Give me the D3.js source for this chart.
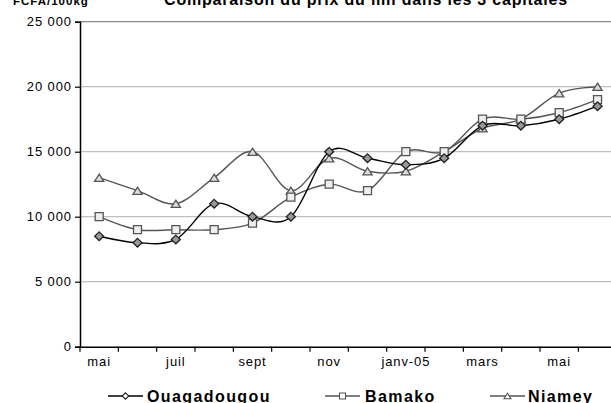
<!DOCTYPE html>
<html>
<head>
<meta charset="utf-8">
<script src="https://cdn.jsdelivr.net/npm/d3@7"></script>
<style>
  body { margin: 0; background: #fff; }
  svg { display: block; font-family: "Liberation Sans", Arial, sans-serif; }
</style>
</head>
<body>
<div id="chart"></div>
<script>
// months, May 2004 to June 2005
var months = ["mai", "juin", "juil", "août", "sept", "oct", "nov", "déc",
              "janv-05", "févr", "mars", "avr", "mai", "juin"];
var ouaga  = [8500, 8000, 8250, 11000, 10000, 10000, 15000, 14500, 14000, 14500, 17000, 17000, 17500, 18500];
var bamako = [10000, 9000, 9000, 9000, 9500, 11500, 12500, 12000, 15000, 15000, 17500, 17500, 18000, 19000];
var niamey = [13000, 12000, 11000, 13000, 15000, 12000, 14500, 13500, 13500, 15000, 16800, 17500, 19500, 20000];
var yTicks = [0, 5000, 10000, 15000, 20000, 25000];

var width = 611, height = 403;
var margin = {top: 21.7, right: -5.7, bottom: 56.3, left: 80};

var svg = d3.select("#chart").append("svg")
  .attr("width", width)
  .attr("height", height);

var x = d3.scaleBand()
  .domain(d3.range(months.length))
  .range([margin.left, width - margin.right]);

var y = d3.scaleLinear()
  .domain([0, 25000])
  .range([height - margin.bottom, margin.top]);

var fmt = d3.formatLocale({decimal: ",", thousands: " ", grouping: [3], currency: ["", ""]}).format(",");

// marker outlines, k scales them down for the legend
function diamond(k) { var w = 4.5 * k, h = 4.3 * k; return "M0," + (-h) + "L" + w + ",0L0," + h + "L" + (-w) + ",0Z"; }
function square(k) { var s = 4 * k; return "M" + (-s) + "," + (-s) + "H" + s + "V" + s + "H" + (-s) + "Z"; }
function triangle(k) { var w = 4.6 * k, h = 3.6 * k; return "M0," + (-h) + "L" + w + "," + h + "H" + (-w) + "Z"; }

// gridlines
svg.append("g")
  .selectAll("line")
  .data(yTicks.slice(1))
  .enter()
  .append("line")
  .attr("x1", margin.left)
  .attr("x2", width)
  .attr("y1", function(d) { return y(d); })
  .attr("y2", function(d) { return y(d); })
  .attr("stroke", function(d) { return d == 25000 ? "#888" : "#c0c0c0"; })
  .attr("stroke-width", 1.2);

// y axis
var yAxis = svg.append("g")
  .attr("transform", "translate(" + margin.left + ",0)")
  .call(d3.axisLeft(y).tickValues(yTicks).tickSize(5).tickPadding(3).tickFormat(fmt));
yAxis.select(".domain").attr("stroke", "#000").attr("stroke-width", 1.5);
yAxis.selectAll(".tick line").attr("stroke", "#000").attr("stroke-width", 1.2);
yAxis.selectAll("text")
  .attr("font-size", "13px")
  .attr("letter-spacing", "0.9px")
  .attr("fill", "#000")
  .attr("font-family", "Liberation Sans, Arial, sans-serif");

// x axis
var xAxis = svg.append("g")
  .attr("transform", "translate(0," + y(0) + ")")
  .call(d3.axisBottom(x).tickSize(0).tickPadding(10)
    .tickFormat(function(i) { return i % 2 == 0 ? months[i] : ""; }));
xAxis.select(".domain").attr("stroke", "#000").attr("stroke-width", 1.5);
xAxis.selectAll("text")
  .attr("font-size", "13px")
  .attr("letter-spacing", "0.9px")
  .attr("fill", "#000")
  .attr("font-family", "Liberation Sans, Arial, sans-serif");
xAxis.selectAll(".bound")
  .data(d3.range(months.length + 1))
  .enter()
  .append("line")
  .attr("class", "bound")
  .attr("x1", function(i) { return margin.left + i * x.step(); })
  .attr("x2", function(i) { return margin.left + i * x.step(); })
  .attr("y1", 0)
  .attr("y2", 5)
  .attr("stroke", "#000")
  .attr("stroke-width", 1.2);

var cx = function(d, i) { return x(i) + x.bandwidth() / 2; };

var series = [
  {name: "Ouagadougou", values: ouaga,  line: "#000", fill: "#999", stroke: "#222", shape: diamond,  lx: 108, tx: 147},
  {name: "Bamako",      values: bamako, line: "#555", fill: "#eee", stroke: "#555", shape: square,   lx: 325, tx: 365},
  {name: "Niamey",      values: niamey, line: "#555", fill: "#ddd", stroke: "#555", shape: triangle, lx: 490, tx: 528}
];

var line = d3.line()
  .x(cx)
  .y(function(d) { return y(d); })
  .curve(d3.curveCardinal.tension(0));

// draw lower series last so Ouagadougou stays on top
series.slice().reverse().forEach(function(s) {
  svg.append("path")
    .datum(s.values)
    .attr("d", line)
    .attr("fill", "none")
    .attr("stroke", s.line)
    .attr("stroke-width", 1.4);

  svg.append("g")
    .selectAll("path")
    .data(s.values)
    .enter()
    .append("path")
    .attr("d", s.shape(1))
    .attr("transform", function(d, i) { return "translate(" + cx(d, i) + "," + y(d) + ")"; })
    .attr("fill", s.fill)
    .attr("stroke", s.stroke)
    .attr("stroke-width", 1.3);
});

// legend
var legend = svg.append("g");
series.forEach(function(s) {
  var ly = 396;
  legend.append("line")
    .attr("x1", s.lx).attr("x2", s.lx + 35)
    .attr("y1", ly).attr("y2", ly)
    .attr("stroke", s.line).attr("stroke-width", 1.4);
  legend.append("path")
    .attr("d", s.shape(0.75))
    .attr("transform", "translate(" + (s.lx + 17.5) + "," + ly + ")")
    .attr("fill", "#fff")
    .attr("stroke", s.stroke)
    .attr("stroke-width", 1.1);
  legend.append("text")
    .attr("x", s.tx)
    .attr("y", 402)
    .attr("font-size", "16px")
    .attr("font-weight", "bold")
    .attr("letter-spacing", "1.4px")
    .text(s.name);
});

// titles
svg.append("text")
  .attr("x", 366)
  .attr("y", 5)
  .attr("text-anchor", "middle")
  .attr("font-size", "16px")
  .attr("font-weight", "bold")
  .attr("letter-spacing", "0.8px")
  .text("Comparaison du prix du mil dans les 3 capitales");

svg.append("text")
  .attr("x", 13)
  .attr("y", 5)
  .attr("font-size", "11.5px")
  .attr("font-weight", "bold")
  .attr("letter-spacing", "1px")
  .text("FCFA/100kg");
</script>
</body>
</html>
